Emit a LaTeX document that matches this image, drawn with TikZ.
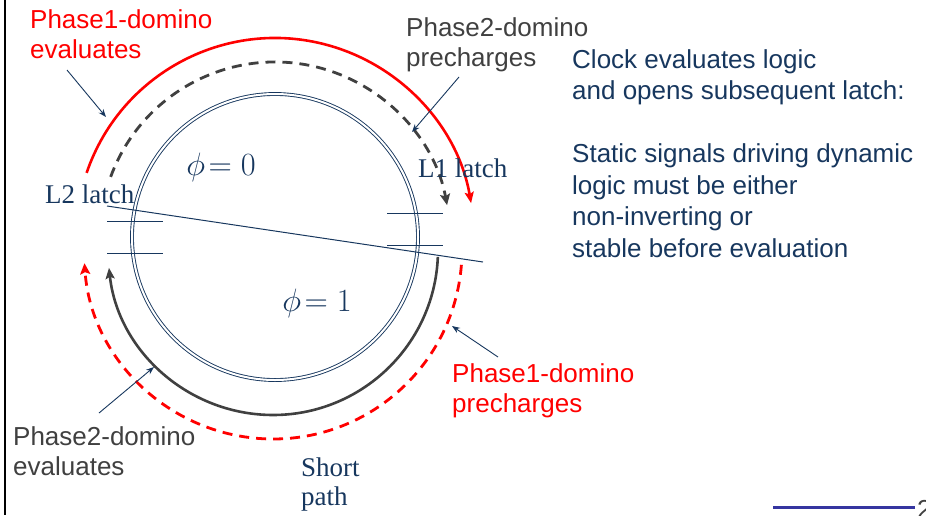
\documentclass[tikz,border=0pt]{standalone}
\usepackage{graphicx}
\usepackage{fontspec}
\setmainfont{Liberation Sans}
\newfontfamily\latchfont{Liberation Serif}
\usepackage{xcolor}
\usepackage{tikz}
\usetikzlibrary{arrows.meta, calc}
\definecolor{navy}{HTML}{17375E}
\definecolor{dgray}{HTML}{404040}
\definecolor{slideblue}{HTML}{3535A0}
\newcommand{\phasetext}[1]{\scalebox{1.3}{$\phi\!=#1$}}
\tikzset{
  ring/.style={
    draw=navy,
    double,
    double distance=2pt,
    line width=0.9pt
  },
  evalarc/.style={
    line width=2.6pt,
    ->,
    >={Stealth[length=11pt, width=9pt, inset=2pt]}
  },
  prearc/.style={
    line width=2.8pt,
    dash pattern=on 10pt off 7pt,
    ->,
    >={Stealth[length=11pt, width=10pt, inset=2pt]}
  },
  latch/.style={
    draw=navy,
    line width=1pt
  },
  pointer/.style={
    navy,
    line width=0.9pt,
    ->,
    >={Stealth[length=8pt, width=6pt]}
  },
  caption/.style={
    font=\fontsize{26}{30}\selectfont,
    align=left,
    inner sep=0pt,
    anchor=north west
  },
  latchlabel/.style={
    navy,
    font=\latchfont\fontsize{27}{29}\selectfont,
    align=left,
    inner sep=0pt
  },
  phase/.style={
    navy,
    font=\fontsize{24.88}{28}\selectfont,
    inner sep=0pt
  }
}

\begin{document}
\begin{tikzpicture}[x=1pt, y=-1pt]
  \useasboundingbox (0,0) rectangle (926,515);

  % Clock ring
  \coordinate (c) at (275,237);
  \coordinate (cb) at (273,250);
  \draw[ring] (c) circle[radius=143];

  % Phase arcs (top)
  \draw[evalarc, red] (c) ++(198.8:199) arc[start angle=198.8, end angle=350.2, radius=199];
  \draw[prearc, dgray] (c) ++(200.1:175) arc[start angle=200.1, end angle=349.5, radius=175];

  % Phase arcs (bottom)
  \draw[evalarc, dgray] (cb) ++(2.4:165) arc[start angle=2.4, end angle=173.8, radius=165];
  \draw[prearc, red] (cb) ++(4.5:189) arc[start angle=4.5, end angle=176, radius=189];

  % Latches
  \draw[latch] (107,221) -- (163,221);
  \draw[latch] (107,253) -- (163,253);
  \draw[latch] (387,213) -- (443,213);
  \draw[latch] (387,245) -- (443,245);
  \draw[latch] (107,206) -- (483,262);

  % Labels
  \node (p1eval) [caption, red] at (30,9) {Phase1-domino\\evaluates};
  \node (p2pre) [caption, dgray] at (406,17) {Phase2-domino\\precharges};
  \node (note) [caption, navy, font=\fontsize{26}{31.5}\selectfont] at (572,49)
    {Clock evaluates logic\\and opens subsequent latch:\\[31.5pt]Static signals driving dynamic\\logic must be either\\non-inverting or\\stable before evaluation};
  \node (p1pre) [caption, red] at (452,363) {Phase1-domino\\precharges};
  \node (p2eval) [caption, dgray] at (13,426) {Phase2-domino\\evaluates};
  \node (short) [latchlabel, anchor=north west] at (301,458) {Short\\path};
  \node (l2) [latchlabel, anchor=base west] at (45,203) {L2 latch};
  \node (l1) [latchlabel, anchor=base west] at (418,177) {L1 latch};
  \node (phi0) [phase] at (221,167) {\phasetext{0}};
  \node (phi1) [phase] at (317,303) {\phasetext{1}};

  % Pointers
  \coordinate (p1evalfrom) at (67,70);
  \coordinate (p1evalto) at (106,117);
  \coordinate (p2prefrom) at (459,77);
  \coordinate (p2preto) at (412,132);
  \coordinate (p2evalfrom) at (99,413);
  \coordinate (p2evalto) at (154,367);
  \coordinate (p1prefrom) at (498,357);
  \coordinate (p1preto) at (452,326);
  \draw[pointer] (p1evalfrom) -- (p1evalto);
  \draw[pointer] (p2prefrom) -- (p2preto);
  \draw[pointer] (p2evalfrom) -- (p2evalto);
  \draw[pointer] (p1prefrom) -- (p1preto);

  % Slide frame
  \coordinate (frametop) at (5,0);
  \coordinate (framebot) at (5,515);
  \draw[line width=2pt] (frametop) -- (framebot);
  \coordinate (rulel) at (773,507);
  \coordinate (ruler) at (915,507);
  \draw[slideblue, line width=3pt] (rulel) -- (ruler);
  \node (pageno) [dgray, font=\fontsize{26}{30}\selectfont, inner sep=0pt, anchor=base west] at (917,518) {2};

\end{tikzpicture}
\end{document}
